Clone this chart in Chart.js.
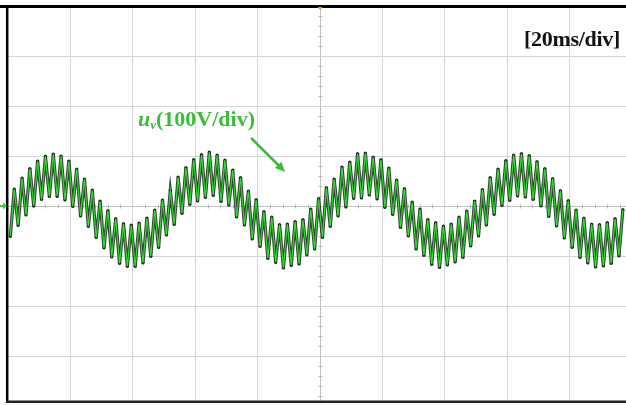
<!DOCTYPE html>
<html><head><meta charset="utf-8">
<script src="https://cdn.jsdelivr.net/npm/chart.js@4.4.1/dist/chart.umd.min.js"></script>
<style>
html,body{margin:0;padding:0;background:#fff;}
#wrap{position:relative;width:626px;height:405px;overflow:hidden;background:#fff;}
#c{position:absolute;left:0;top:0;}
.lbl{position:absolute;font-family:"Liberation Serif","Times New Roman",serif;font-weight:bold;font-size:22px;line-height:22px;white-space:nowrap;}
</style></head><body>
<div id="wrap"><canvas id="c" width="626" height="405"></canvas>
<div class="lbl" style="right:6px;top:28px;color:#111;letter-spacing:-0.3px;">[20ms/div]</div>
<div class="lbl" style="left:138px;top:108px;color:#3bbd3b;"><i>u</i><sub style="font-size:13px;vertical-align:-3px;line-height:0"><i>v</i></sub>(100V/div)</div>
</div>
<script>
// sample times (ms) of the captured trace
const timeMs = [
 0.75,2,3.25,4.5,5.75,7,8.25,9.5,10.75,12,13.25,14.5,15.75,17,18.25,19.5,20.75,22,23.25,24.5,
 25.75,27,28.25,29.5,30.75,32,33.25,34.5,35.75,37,38.25,39.5,40.75,42,43.25,44.5,45.75,47,48.25,49.5,
 50.75,52,53.25,54.5,55.75,57,58.25,59.5,60.75,62,63.25,64.5,65.75,67,68.25,69.5,70.75,72,73.25,74.5,
 75.75,77,78.25,79.5,80.75,82,83.25,84.5,85.75,87,88.25,89.5,90.75,92,93.25,94.5,95.75,97,98.25,99.5,
 100.75,102,103.25,104.5,105.75,107,108.25,109.5,110.75,112,113.25,114.5,115.75,117,118.25,119.5,120.75,122,123.25,124.5,
 125.75,127,128.25,129.5,130.75,132,133.25,134.5,135.75,137,138.25,139.5,140.75,142,143.25,144.5,145.75,147,148.25,149.5,
 150.75,152,153.25,154.5,155.75,157,158.25,159.5,160.75,162,163.25,164.5,165.75,167,168.25,169.5,170.75,172,173.25,174.5,
 175.75,177,178.25,179.5,180.75,182,183.25,184.5,185.75,187,188.25,189.5,190.75,192,193.25,194.5,195.75,197
];
// u_v trace values (V)
const uvVolts = [
 -61,34,-39,56,-18,75,0,90,13,100,19,104,19,100,12,90,-1,74,-20,54,
 -41,32,-63,10,-84,-9,-102,-25,-115,-35,-121,-38,-121,-34,-114,-24,-101,-8,-83,12,
 -58,31,-37,58,-15,77,3,93,10,103,17,108,21,102,9,92,2,72,-22,57,
 -38,30,-66,13,-81,-11,-105,-22,-113,-37,-124,-36,-119,-31,-116,-27,-98,-6,-86,15,
 -63,37,-41,54,-20,78,-2,88,15,105,16,106,22,98,14,93,-3,76,-17,52,
 -43,35,-60,8,-86,-6,-99,-27,-117,-33,-123,-40,-118,-36,-112,-22,-103,-10,-80,10,
 -60,33,-38,57,-17,74,1,91,11,102,20,105,18,101,13,89,0,75,-21,55,
 -40,31,-64,11,-83,-8,-103,-24,-114,-36,-122,-37,-120,-33,-115,-25,-100,-7
];
const xGridMs = [20,40,60,80,100,120,140,160,180];
const yGridV = [-300,-200,-100,0,100,200,300];
const xRangeMs = [0,198];
const yRangeV = [-390,400];
const arrowFrom = {t:77.9, v:136};
const arrowTo = {t:88.8, v:68};

const points = timeMs.map((t,i)=>({x:t,y:uvVolts[i]}));

const scopeDeco = {
  id:'scopeDeco',
  beforeDatasetsDraw(chart){
    const {ctx, scales:{x,y}} = chart;
    const cx = Math.round(x.getPixelForValue(100))+0.5;
    const cy = Math.round(y.getPixelForValue(0))+0.5;
    ctx.save();
    ctx.strokeStyle='#b8b8b8'; ctx.lineWidth=1;
    for(let v=-380; v<=380; v+=20){
      if(v%100===0) continue;
      const py=Math.round(y.getPixelForValue(v))+0.5;
      ctx.beginPath(); ctx.moveTo(cx-2,py); ctx.lineTo(cx+2,py); ctx.stroke();
    }
    for(let t=4; t<198; t+=4){
      if(t%20===0) continue;
      const px=Math.round(x.getPixelForValue(t))+0.5;
      ctx.beginPath(); ctx.moveTo(px,cy-2); ctx.lineTo(px,cy+2); ctx.stroke();
    }
    ctx.restore();
  },
  afterDraw(chart){
    const {ctx, chartArea:a, scales:{x,y}} = chart;
    ctx.save();
    ctx.strokeStyle='#000';
    ctx.lineWidth=3;
    ctx.beginPath(); ctx.moveTo(0,a.top+0.5); ctx.lineTo(chart.width,a.top+0.5); ctx.stroke();
    ctx.lineWidth=2.5;
    ctx.beginPath(); ctx.moveTo(a.left-0.8,a.top); ctx.lineTo(a.left-0.8,a.bottom+2); ctx.stroke();
    ctx.strokeStyle='#222'; ctx.lineWidth=2.5;
    ctx.beginPath(); ctx.moveTo(a.left-2,a.bottom+0.8); ctx.lineTo(chart.width,a.bottom+0.8); ctx.stroke();
    const cx = x.getPixelForValue(100);
    ctx.fillStyle='#f0961e';
    ctx.beginPath(); ctx.moveTo(cx-2.5,a.top+1); ctx.lineTo(cx+2.5,a.top+1); ctx.lineTo(cx,a.top+4); ctx.closePath(); ctx.fill();
    const gy = y.getPixelForValue(0);
    ctx.fillStyle='#3ccc3c'; ctx.strokeStyle='#3ccc3c'; ctx.lineWidth=2;
    ctx.beginPath(); ctx.moveTo(0,gy); ctx.lineTo(5,gy); ctx.stroke();
    ctx.beginPath(); ctx.moveTo(3,gy-3.5); ctx.lineTo(7,gy); ctx.lineTo(3,gy+3.5); ctx.closePath(); ctx.fill();
    const x1=x.getPixelForValue(arrowFrom.t), y1=y.getPixelForValue(arrowFrom.v);
    const x2=x.getPixelForValue(arrowTo.t), y2=y.getPixelForValue(arrowTo.v);
    const ang=Math.atan2(y2-y1,x2-x1);
    ctx.strokeStyle='#3bbd3b'; ctx.fillStyle='#3bbd3b'; ctx.lineWidth=2.5;
    ctx.beginPath(); ctx.moveTo(x1,y1); ctx.lineTo(x2-6*Math.cos(ang),y2-6*Math.sin(ang)); ctx.stroke();
    ctx.beginPath();
    ctx.moveTo(x2,y2);
    ctx.lineTo(x2-10*Math.cos(ang)+4.5*Math.sin(ang), y2-10*Math.sin(ang)-4.5*Math.cos(ang));
    ctx.lineTo(x2-10*Math.cos(ang)-4.5*Math.sin(ang), y2-10*Math.sin(ang)+4.5*Math.cos(ang));
    ctx.closePath(); ctx.fill();
    ctx.restore();
  }
};

new Chart(document.getElementById('c'), {
  type:'line',
  data:{datasets:[
    {label:'u_v', data:points, borderColor:'#2ee62e', borderWidth:1.1, pointRadius:0, tension:0},
    {label:'u_v outline', data:points, borderColor:'rgba(18,36,18,0.85)', borderWidth:3.2, pointRadius:1.6, pointBackgroundColor:'rgba(10,22,10,0.9)', pointBorderWidth:0, tension:0}
  ]},
  options:{
    responsive:false, animation:false,
    layout:{autoPadding:false, padding:{left:8,top:6,right:0,bottom:4}},
    plugins:{legend:{display:false}, tooltip:{enabled:false}},
    scales:{
      x:{type:'linear', min:xRangeMs[0], max:xRangeMs[1],
         afterBuildTicks:s=>{s.ticks=xGridMs.map(v=>({value:v}));},
         grid:{color:c=>(c.tick&&c.tick.value===100)?'#c2c2c2':'#d6d6d6', lineWidth:1, drawTicks:false},
         border:{display:false}, ticks:{display:false}},
      y:{type:'linear', min:yRangeV[0], max:yRangeV[1],
         afterBuildTicks:s=>{s.ticks=yGridV.map(v=>({value:v}));},
         grid:{color:c=>(c.tick&&c.tick.value===0)?'#c2c2c2':'#d6d6d6', lineWidth:1, drawTicks:false},
         border:{display:false}, ticks:{display:false}}
    }
  },
  plugins:[scopeDeco]
});
</script>
</body></html>
